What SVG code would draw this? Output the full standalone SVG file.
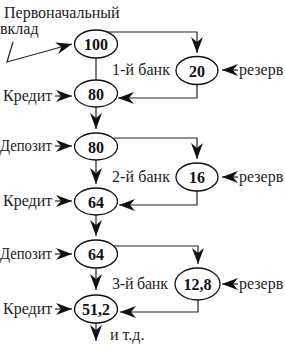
<svg xmlns="http://www.w3.org/2000/svg" width="285" height="359" viewBox="0 0 285 359" font-family="Liberation Serif, Times New Roman, serif">
<style>
.t{font-size:16px;fill:#222}
.n{font-size:16px;font-weight:bold;fill:#111;text-anchor:middle}
.e{fill:#fff;stroke:#111;stroke-width:1.3}
.c{fill:none;stroke:#222;stroke-width:1.2}
</style>
<defs>
<marker id="a" markerUnits="userSpaceOnUse" markerWidth="18" markerHeight="14" viewBox="-16 -7 18 14" refX="0" refY="0" orient="auto">
<path d="M0,0 L-16,-6 L-11,0 L-16,6 Z" fill="#111"/>
</marker>
</defs>
<rect width="285" height="359" fill="#fff"/>
<g id="connectors" class="c">
<path d="M13,42 L7,62 L72,44" marker-end="url(#a)"/>
<path d="M108,32 H197 V53" marker-end="url(#a)"/>
<path d="M197,84 V98 H118" marker-end="url(#a)"/>
<path d="M96,58 V80"/>
<path d="M55,96 H72" marker-end="url(#a)"/>
<path d="M238,70 H222" marker-end="url(#a)"/>
<path d="M96,107 V129" marker-end="url(#a)"/>
<path d="M114,138 H197 V159" marker-end="url(#a)"/>
<path d="M197,191 V205 H119" marker-end="url(#a)"/>
<path d="M55,146 H72" marker-end="url(#a)"/>
<path d="M238,177 H222" marker-end="url(#a)"/>
<path d="M96,160 V184" marker-end="url(#a)"/>
<path d="M55,201 H72" marker-end="url(#a)"/>
<path d="M96,215 V236" marker-end="url(#a)"/>
<path d="M114,246 H198 V264" marker-end="url(#a)"/>
<path d="M198,300 V312 H120" marker-end="url(#a)"/>
<path d="M55,254 H72" marker-end="url(#a)"/>
<path d="M238,284 H222" marker-end="url(#a)"/>
<path d="M96,268 V290" marker-end="url(#a)"/>
<path d="M55,309 H72" marker-end="url(#a)"/>
<path d="M96,323 V341" marker-end="url(#a)"/>
</g>
<g id="labels">
<text class="t" x="4" y="18">Первоначальный</text>
<text class="t" x="0" y="34">вклад</text>
<text class="t" x="112" y="75" textLength="58" lengthAdjust="spacing">1-й банк</text>
<text class="t" x="239" y="75">резерв</text>
<text class="t" x="3" y="101">Кредит</text>
<text class="t" x="0" y="151" textLength="52" lengthAdjust="spacingAndGlyphs">Депозит</text>
<text class="t" x="112" y="182" textLength="58" lengthAdjust="spacing">2-й банк</text>
<text class="t" x="239" y="182">резерв</text>
<text class="t" x="3" y="206">Кредит</text>
<text class="t" x="0" y="259" textLength="52" lengthAdjust="spacingAndGlyphs">Депозит</text>
<text class="t" x="112" y="289" textLength="56" lengthAdjust="spacing">3-й банк</text>
<text class="t" x="239" y="289">резерв</text>
<text class="t" x="3" y="314">Кредит</text>
<text class="t" x="110" y="340">и т.д.</text>
</g>
<g id="n100"><ellipse class="e" cx="96" cy="44" rx="21.5" ry="14"/><text class="n" x="96" y="50">100</text></g>
<g id="n80a"><ellipse class="e" cx="96" cy="93.5" rx="21.5" ry="13.5"/><text class="n" x="96" y="99.5">80</text></g>
<g id="n20"><ellipse class="e" cx="197" cy="70.5" rx="21" ry="14"/><text class="n" x="197" y="76.5">20</text></g>
<g id="n80b"><ellipse class="e" cx="96" cy="146.5" rx="21.5" ry="13.5"/><text class="n" x="96" y="152.5">80</text></g>
<g id="n16"><ellipse class="e" cx="197" cy="177" rx="21" ry="14"/><text class="n" x="197" y="183">16</text></g>
<g id="n64a"><ellipse class="e" cx="96" cy="201.5" rx="21.5" ry="13.5"/><text class="n" x="96" y="207.5">64</text></g>
<g id="n64b"><ellipse class="e" cx="96" cy="254" rx="21.5" ry="14"/><text class="n" x="96" y="260">64</text></g>
<g id="n128"><ellipse class="e" cx="197.5" cy="284" rx="22.5" ry="16"/><text class="n" x="197.5" y="290">12,8</text></g>
<g id="n512"><ellipse class="e" cx="96" cy="309" rx="21.5" ry="14"/><text class="n" x="96" y="315">51,2</text></g>
</svg>
